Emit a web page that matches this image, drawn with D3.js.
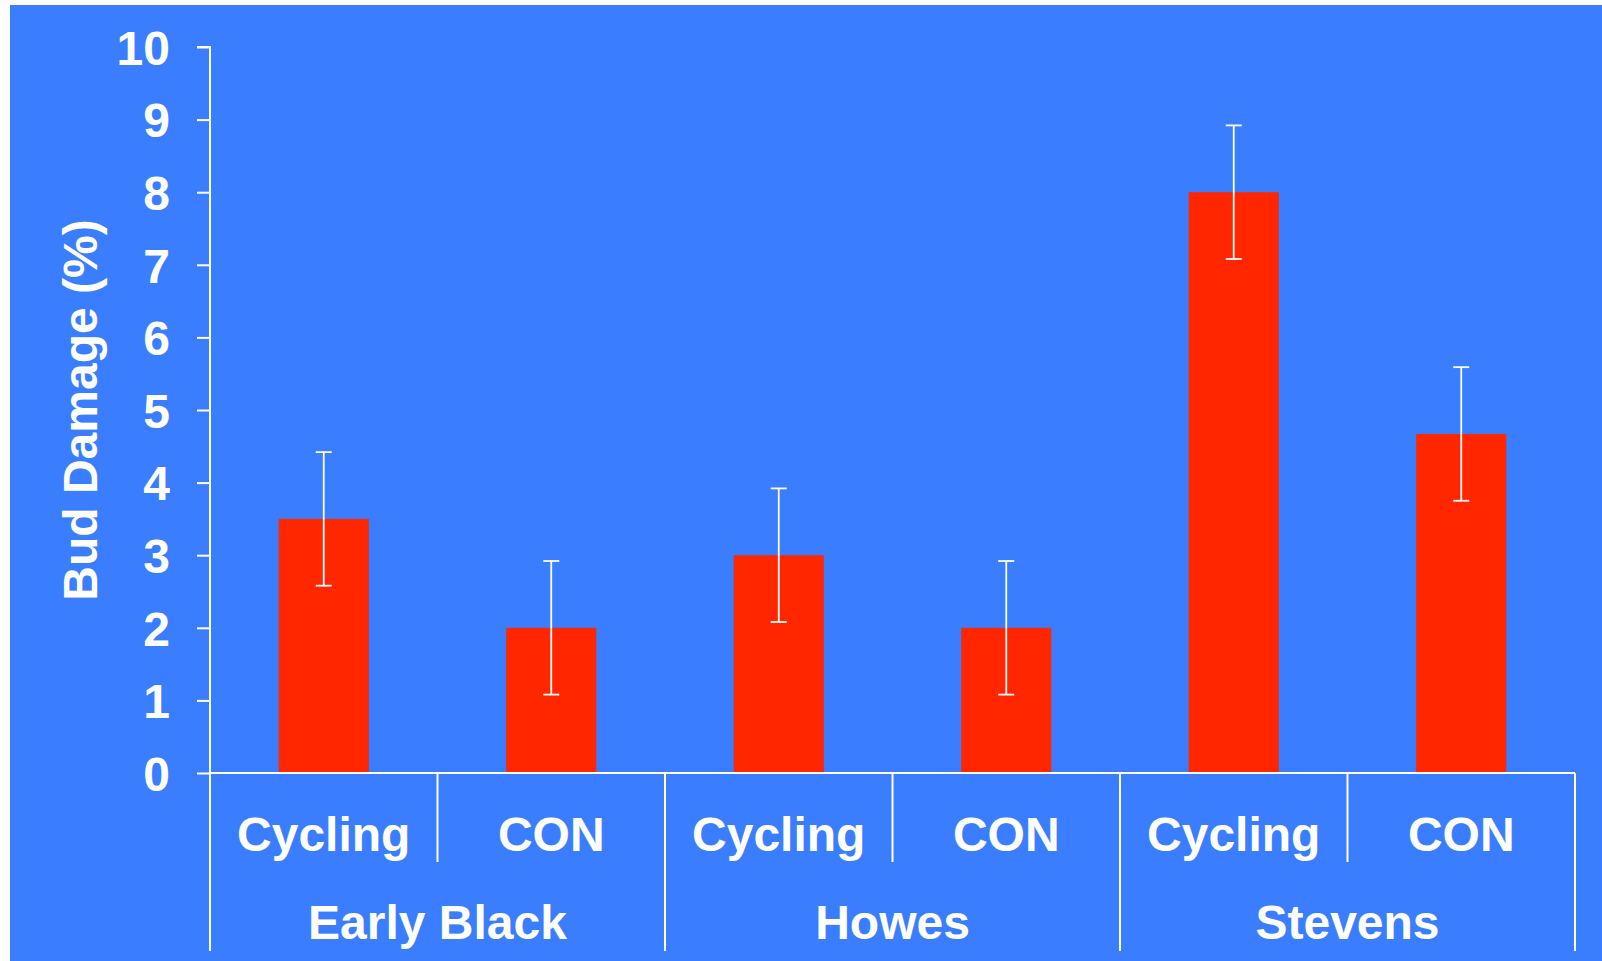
<!DOCTYPE html>
<html>
<head>
<meta charset="utf-8">
<script src="https://cdn.jsdelivr.net/npm/d3@7"></script>
<style>
html,body{margin:0;padding:0;background:#fff;}
svg{display:block;}
text{font-family:"Liberation Sans",Arial,sans-serif;font-weight:bold;fill:#fff;}
</style>
</head>
<body>
<script>
const groups = ["Early Black", "Howes", "Stevens"];
const treatments = ["Cycling", "CON"];
const values = [3.5, 2.0, 3.0, 2.0, 8.0, 4.67];
const errors = [0.92, 0.92, 0.92, 0.92, 0.92, 0.92];
const yTicks = [0,1,2,3,4,5,6,7,8,9,10];
const yLabel = "Bud Damage (%)";

const W = 1602, H = 961;
const svg = d3.select("body").append("svg").attr("width", W).attr("height", H);
svg.append("rect").attr("x", 10).attr("y", 5).attr("width", W - 10).attr("height", H - 5).attr("fill", "#3a7eff");

const bars = [];
groups.forEach((g, gi) => treatments.forEach((t, ti) => {
  const i = gi * treatments.length + ti;
  bars.push({key: g + "|" + t, group: g, treat: t, v: values[i], e: errors[i]});
}));

const x0 = 210, x1 = 1575, yBase = 773, yTop = 47;
const x = d3.scaleBand().domain(bars.map(d => d.key)).range([x0, x1]).paddingInner(0.604).paddingOuter(0.302);
const y = d3.scaleLinear().domain([0, 10]).range([yBase, yTop]);

// bars
svg.selectAll("rect.bar").data(bars).join("rect").attr("class", "bar")
  .attr("x", d => x(d.key)).attr("width", x.bandwidth())
  .attr("y", d => y(d.v)).attr("height", d => y(0) - y(d.v))
  .attr("fill", "#ff2600");

// error bars
const eb = svg.selectAll("g.err").data(bars).join("g").attr("class", "err")
  .attr("stroke", "#fff").attr("stroke-width", 1.8);
eb.append("line").attr("x1", d => x(d.key) + x.bandwidth()/2).attr("x2", d => x(d.key) + x.bandwidth()/2)
  .attr("y1", d => y(d.v + d.e)).attr("y2", d => y(d.v - d.e));
eb.append("line").attr("x1", d => x(d.key) + x.bandwidth()/2 - 8).attr("x2", d => x(d.key) + x.bandwidth()/2 + 8)
  .attr("y1", d => y(d.v + d.e)).attr("y2", d => y(d.v + d.e));
eb.append("line").attr("x1", d => x(d.key) + x.bandwidth()/2 - 8).attr("x2", d => x(d.key) + x.bandwidth()/2 + 8)
  .attr("y1", d => y(d.v - d.e)).attr("y2", d => y(d.v - d.e));

// y axis
const yAxis = d3.axisLeft(y).tickValues(yTicks).tickSize(13).tickPadding(27).tickFormat(d3.format("d"));
const ga = svg.append("g").attr("transform", `translate(${x0},0)`).call(yAxis);
ga.select(".domain").attr("stroke", "#fff").attr("stroke-width", 2).attr("d", `M-13,${yTop}H0V${yBase}`);
ga.selectAll(".tick line").attr("stroke", "#fff").attr("stroke-width", 2);
ga.selectAll(".tick text").attr("fill", "#fff").attr("font-size", 48).attr("font-weight", "bold")
  .attr("font-family", '"Liberation Sans",Arial,sans-serif').attr("dy", "0.36em");

// x axis baseline
svg.append("line").attr("x1", x0).attr("x2", x1).attr("y1", yBase).attr("y2", yBase)
  .attr("stroke", "#fff").attr("stroke-width", 2);

// separators
const step = x.step();
const bandStart = d => x(d.key) - x.paddingOuter() * step;
bars.forEach((d, i) => {
  const xs = bandStart(d);
  const isGroupStart = i % treatments.length === 0;
  svg.append("line").attr("x1", xs).attr("x2", xs).attr("y1", yBase).attr("y2", isGroupStart ? 951 : 862)
    .attr("stroke", "#fff").attr("stroke-width", 2);
});
svg.append("line").attr("x1", x1).attr("x2", x1).attr("y1", yBase).attr("y2", 951)
  .attr("stroke", "#fff").attr("stroke-width", 2);

// treatment labels
svg.selectAll("text.treat").data(bars).join("text").attr("class", "treat")
  .attr("x", d => x(d.key) + x.bandwidth()/2).attr("y", 851)
  .attr("text-anchor", "middle").attr("font-size", 48).text(d => d.treat);

// group labels
svg.selectAll("text.grp").data(groups).join("text").attr("class", "grp")
  .attr("x", (g, gi) => {
    const a = bars[gi * treatments.length], b = bars[gi * treatments.length + treatments.length - 1];
    return (bandStart(a) + bandStart(b) + step) / 2;
  })
  .attr("y", 939).attr("text-anchor", "middle").attr("font-size", 48).text(g => g);

// y label
svg.append("text").attr("transform", `translate(97,${(yTop + yBase)/2}) rotate(-90)`)
  .attr("text-anchor", "middle").attr("font-size", 48).text(yLabel);
</script>
</body>
</html>
